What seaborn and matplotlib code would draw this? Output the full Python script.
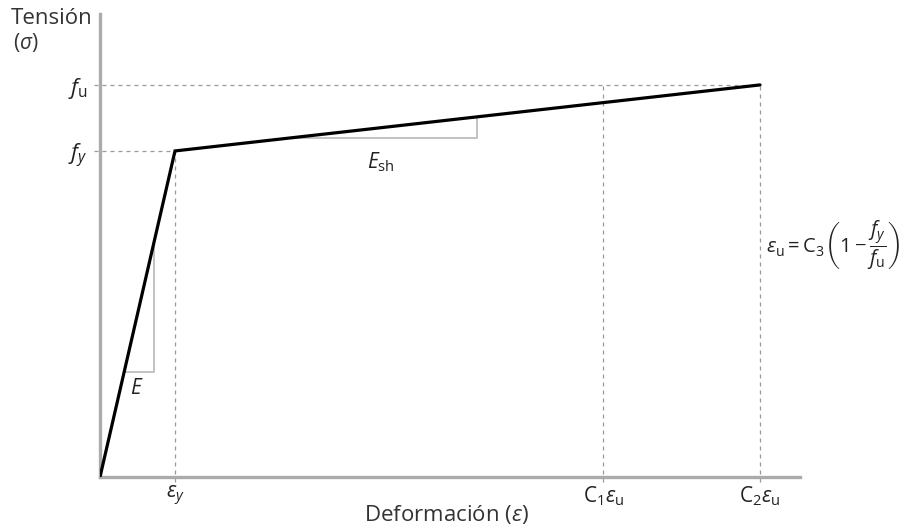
import matplotlib
matplotlib.use("Agg")
import matplotlib.pyplot as plt
import pandas as pd
import seaborn as sns

# Bilinear steel model, normalised units (strain / eps_y, stress / f_y)
strain_points = [0.0, 1.0, 8.8]        # 0, eps_y, C2*eps_u
stress_points = [0.0, 1.0, 1.2025]     # 0, f_y, f_u
strain_marks = [1.0, 6.71, 8.8]        # eps_y, C1*eps_u, C2*eps_u
strain_labels = [r"$\varepsilon_{y}$", r"$\mathrm{C}_{1}\varepsilon_{\mathrm{u}}$",
                 r"$\mathrm{C}_{2}\varepsilon_{\mathrm{u}}$"]
stress_marks = [1.0, 1.2025]           # f_y, f_u
stress_labels = [r"$f_{y}$", r"$f_{\mathrm{u}}$"]

sns.set_theme(style="white")
plt.rcParams["font.family"] = ["Open Sans", "DejaVu Sans"]
plt.rcParams["mathtext.fontset"] = "custom"
plt.rcParams["mathtext.rm"] = "Open Sans"
plt.rcParams["mathtext.it"] = "Open Sans:italic"
plt.rcParams["mathtext.bf"] = "Open Sans:bold"

fig = plt.figure(figsize=(9.05, 5.28), dpi=100)
ax = fig.add_axes([100 / 905, 51 / 528, 700 / 905, 463 / 528])

df = pd.DataFrame({"strain": strain_points, "stress": stress_points})
sns.lineplot(data=df, x="strain", y="stress", ax=ax, color="black",
             linewidth=2.3, zorder=5, solid_joinstyle="miter")

eps_y, c1_eps, c2_eps = strain_marks
f_y, f_u = stress_marks
ax.set_xlim(0, 9.333)
ax.set_ylim(0, 1.42)

# reference (dashed) lines
dash = dict(color="#9a9a9a", linewidth=0.9, linestyle=(0, (3.2, 3.2)), clip_on=False, zorder=2)
x_out, y_out = -0.075, -0.015
ax.plot([x_out, c2_eps], [f_u, f_u], **dash)
ax.plot([x_out, eps_y], [f_y, f_y], **dash)
ax.plot([eps_y, eps_y], [y_out, f_y], **dash)
ax.plot([c1_eps, c1_eps], [y_out, f_u], **dash)
ax.plot([c2_eps, c2_eps], [y_out, f_u], **dash)

# slope triangles
tri = dict(color="#bdbdbd", linewidth=1.3, zorder=3)
E_slope = f_y / eps_y
Esh_slope = (f_u - f_y) / (c2_eps - eps_y)
yb, xr = 0.322, 0.72
ax.plot([yb / E_slope, xr, xr], [yb, yb, xr * E_slope], **tri)
yb2, xr2 = 1.04, 5.03
ax.plot([eps_y + (yb2 - f_y) / Esh_slope, xr2, xr2],
        [yb2, yb2, f_y + (xr2 - eps_y) * Esh_slope], **tri)
ax.text(0.49, 0.27, r"$E$", fontsize=15, ha="center", va="center", color="#222222")
ax.text(3.75, 0.965, r"$E_{\mathrm{sh}}$", fontsize=15, ha="center", va="center", color="#222222")

# axes
sns.despine(ax=ax)
for side in ("left", "bottom"):
    ax.spines[side].set_color("#ababab")
    ax.spines[side].set_linewidth(2.4)
ax.set_xticks(strain_marks)
ax.set_xticklabels(strain_labels, fontsize=15, color="#222222")
ax.set_yticks(stress_marks)
ax.set_yticklabels(stress_labels, fontsize=16, color="#222222")
ax.tick_params(axis="x", length=0, pad=5)
ax.tick_params(axis="y", length=0, pad=9)
ax.set_xlabel("")
ax.set_ylabel("")

fig.text(11 / 905, 1 - 18 / 528, "Tensión", fontsize=16, color="#333333", va="center", ha="left")
fig.text(13 / 905, 1 - 42 / 528, r"$(\sigma)$", fontsize=15, color="#333333", va="center", ha="left")
fig.text(446 / 905, 1 - 514 / 528, r"Deformación $(\varepsilon)$", fontsize=16,
         color="#333333", va="center", ha="center")
fig.text(766 / 905, 1 - 246 / 528,
         r"$\varepsilon_{\mathrm{u}} = \mathrm{C}_{3}\left(1-\dfrac{f_{y}}{f_{\mathrm{u}}}\right)$",
         fontsize=14.5, color="#222222", va="center", ha="left")

fig.savefig("out.png", dpi=100)
